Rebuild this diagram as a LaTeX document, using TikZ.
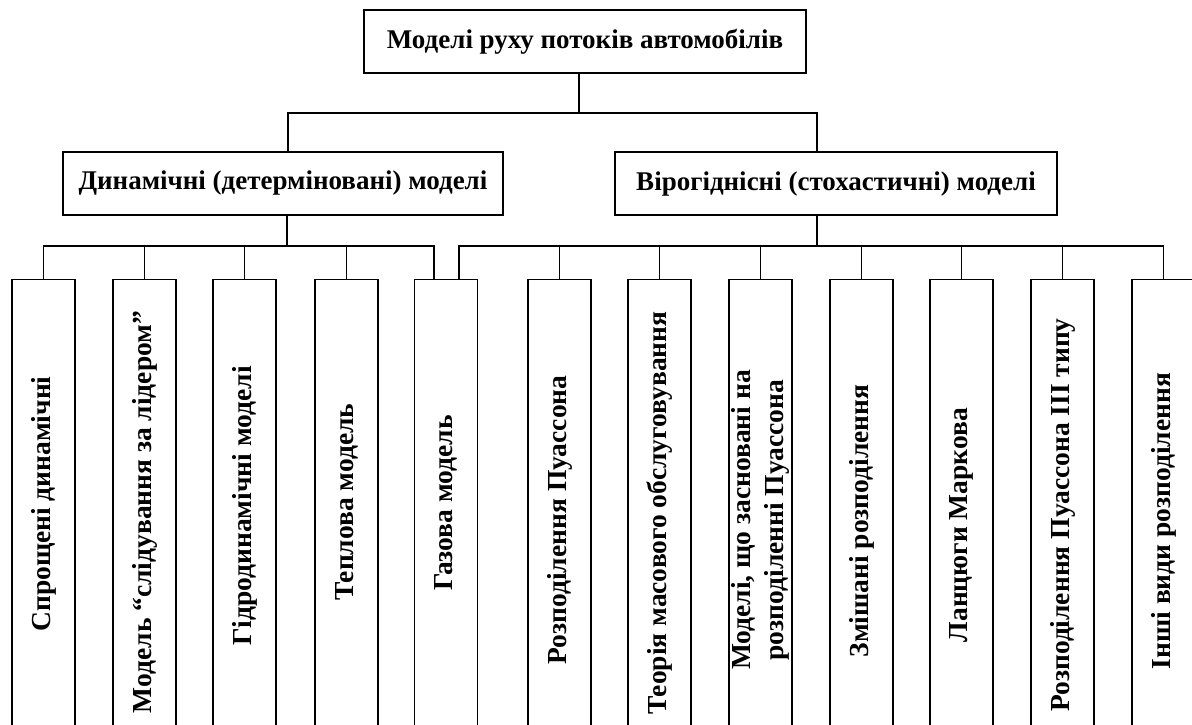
\documentclass[tikz,border=0pt]{standalone}
\usepackage{fontspec}
\setmainfont{Liberation Serif}
\begin{document}
\begin{tikzpicture}[x=1pt,y=-1pt, line width=1.2pt,
  box/.style={draw, fill=white, inner sep=0pt, font=\bfseries\fontsize{27}{33}\selectfont, align=center},
  hbox/.style={box, minimum height=63pt},
  vframe/.style={draw, fill=white, inner sep=0pt, rotate=90, anchor=east, minimum width=520pt, minimum height=63pt},
  vtext/.style={inner sep=0pt, rotate=90, align=center, font=\bfseries\fontsize{27.5}{33}\selectfont}]
\useasboundingbox (0,0) rectangle (1192,724);
\clip (0,0) rectangle (1192,724);
% top levels
\node[hbox, minimum width=442pt] (root) at (585,41.5) {Моделі руху потоків автомобілів};
\node[hbox, minimum width=440pt] (dyn) at (283,183.5) {Динамічні (детерміновані) моделі};
\node[hbox, minimum width=442pt] (sto) at (836,183.5) {Вірогіднісні (стохастичні) моделі};
% bottom level frames (top edges at y=279, running off the page)
\node[vframe] (b1) at (43.5,279) {};
\node[vframe] (b2) at (144.5,279) {};
\node[vframe] (b3) at (244.5,279) {};
\node[vframe] (b4) at (346.5,279) {};
\node[vframe] (b5) at (446,279) {};
\node[vframe] (b6) at (559.5,279) {};
\node[vframe] (b7) at (659.5,279) {};
\node[vframe] (b8) at (760.5,279) {};
\node[vframe] (b9) at (861.5,279) {};
\node[vframe] (b10) at (961.5,279) {};
\node[vframe] (b11) at (1062.5,279) {};
\node[vframe] (b12) at (1163.5,279) {};
% bottom level texts
\node[vtext] (t1) at (43.5,504) {Спрощені динамічні};
\node[vtext] (t2) at (144.5,512) {Модель “слідування за лідером”};
\node[vtext] (t3) at (244.5,506) {Гідродинамічні моделі};
\node[vtext] (t4) at (346.5,502) {Теплова модель};
\node[vtext] (t5) at (446,503) {Газова модель};
\node[vtext] (t6) at (559.5,520) {Розподілення Пуассона};
\node[vtext] (t7) at (659.5,513) {Теорія масового обслуговування};
\node[vtext] (t8) at (760.5,520) {Моделі, що засновані на\\розподіленні Пуассона};
\node[vtext] (t9) at (861.5,521) {Змішані розподілення};
\node[vtext] (t10) at (961.5,525) {Ланцюги Маркова};
\node[vtext] (t11) at (1062.5,515) {Розподілення Пуассона ІІІ типу};
\node[vtext] (t12) at (1163.5,521) {Інші види розподілення};
% buses
\coordinate (tb) at (579,113);
\coordinate (tl) at (288,113);
\coordinate (tr) at (817,113);
\coordinate (lb) at (287,246);
\coordinate (lend) at (434,246);
\coordinate (rstart) at (459,246);
\coordinate (rb) at (817,246);
% connectors top
\draw (root.south -| tb) -- (tb);
\draw (tl |- dyn.north) -- (tl) -- (tr) -- (tr |- sto.north);
% left group
\draw (dyn.south -| lb) -- (lb);
\draw (b1.east) -- (b1.east |- lb) -- (lend) -- (lend |- b5.east);
\foreach \b in {b2,b3,b4} \draw (\b.east) -- (\b.east |- lb);
% right group
\draw (sto.south -| rb) -- (rb);
\draw (rstart |- b5.east) -- (rstart) -- (b12.east |- rb) -- (b12.east);
\foreach \b in {b6,b7,b8,b9,b10,b11} \draw (\b.east) -- (\b.east |- rb);
\end{tikzpicture}
\end{document}
